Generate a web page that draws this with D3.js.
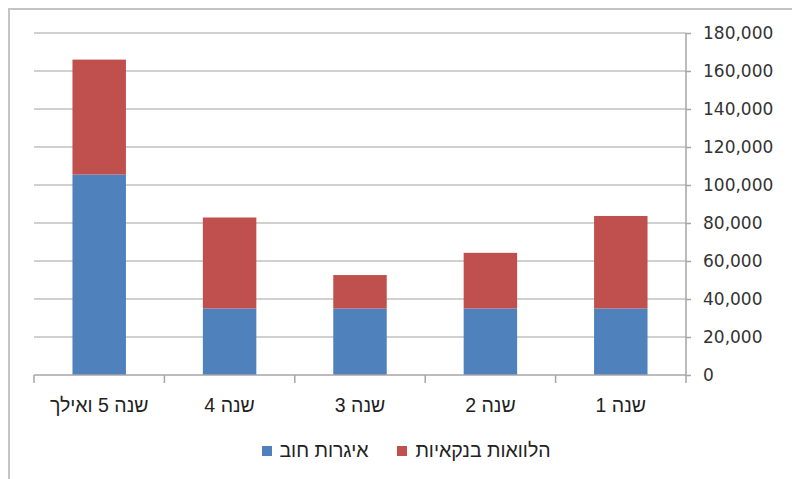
<!DOCTYPE html>
<html>
<head>
<meta charset="utf-8">
<script src="https://cdn.jsdelivr.net/npm/d3@7"></script>
<style>
  body { margin: 0; background: #fff; }
  svg { display: block; }
</style>
</head>
<body>
<script>
// categories run right-to-left on the chart
const categories = ["שנה 1", "שנה 2", "שנה 3", "שנה 4", "שנה 5 ואילך"];
const seriesNames = ["איגרות חוב", "הלוואות בנקאיות"];
const bonds = [35000, 35000, 35000, 35000, 105500];
const loans = [48700, 29300, 17600, 47900, 60500];
const yTicks = [0, 20000, 40000, 60000, 80000, 100000, 120000, 140000, 160000, 180000];
const colors = ["#4F81BD", "#C0504D"];

function drawChart() {
    const width = 792;
    const height = 479;
    const left = 34, right = 686, top = 33, bottom = 375;

    const svg = d3.select("body")
        .append("svg")
        .attr("width", width)
        .attr("height", height);

    // outer frame
    svg.append("rect")
        .attr("x", 9).attr("y", 9)
        .attr("width", 820).attr("height", 520)
        .attr("fill", "none")
        .attr("stroke", "#c4c4c4")
        .attr("stroke-width", 2);

    const x = d3.scaleBand()
        .domain(categories)
        .range([right, left])
        .padding(0);

    const y = d3.scaleLinear()
        .domain([0, 180000])
        .range([bottom, top]);

    // gridlines
    svg.append("g")
        .selectAll("line")
        .data(yTicks.slice(1))
        .enter().append("line")
        .attr("x1", left).attr("x2", right)
        .attr("y1", d => y(d)).attr("y2", d => y(d))
        .attr("stroke", "#c0c0c0")
        .attr("stroke-width", 1.5);

    // stacked bars
    const rows = categories.map((c, i) => ({ cat: c, bonds: bonds[i], loans: loans[i] }));
    const stack = d3.stack().keys(["bonds", "loans"]);
    const layers = stack(rows);
    const barW = x.bandwidth() * 0.41;

    svg.append("g")
        .selectAll("g")
        .data(layers)
        .enter().append("g")
        .attr("fill", (d, i) => colors[i])
        .selectAll("rect")
        .data(d => d)
        .enter().append("rect")
        .attr("x", d => x(d.data.cat) + (x.bandwidth() - barW) / 2)
        .attr("y", d => y(d[1]))
        .attr("width", barW)
        .attr("height", d => y(d[0]) - y(d[1]));

    // y axis on the right
    const yAxis = d3.axisRight(y)
        .tickValues(yTicks)
        .tickSize(5)
        .tickPadding(12)
        .tickFormat(d3.format(","));

    const gy = svg.append("g")
        .attr("transform", `translate(${right},0)`)
        .call(yAxis);
    gy.select(".domain").attr("stroke", "#a6a6a6").attr("stroke-width", 1.5)
        .attr("d", `M0,${top}V${bottom}`);
    gy.selectAll(".tick line").attr("stroke", "#a6a6a6").attr("stroke-width", 1.5);
    gy.selectAll(".tick text")
        .attr("fill", "#333")
        .style("font-family", "DejaVu Sans")
        .style("font-size", "17px");

    // x axis
    const gx = svg.append("g")
        .attr("transform", `translate(0,${bottom})`);
    gx.append("line")
        .attr("x1", left).attr("x2", right)
        .attr("stroke", "#a6a6a6").attr("stroke-width", 1.5);
    const bounds = categories.map(c => x(c)).concat([right]);
    gx.selectAll("line.tk")
        .data(bounds)
        .enter().append("line")
        .attr("class", "tk")
        .attr("x1", d => d).attr("x2", d => d)
        .attr("y1", 0).attr("y2", 8)
        .attr("stroke", "#a6a6a6").attr("stroke-width", 1.5);
    gx.selectAll("text")
        .data(categories)
        .enter().append("text")
        .attr("x", d => x(d) + x.bandwidth() / 2)
        .attr("y", 37)
        .attr("text-anchor", "middle")
        .attr("direction", "rtl")
        .attr("fill", "#222")
        .style("font-family", "Liberation Sans, Arial")
        .style("font-size", "19.5px")
        .text(d => d);

    // legend
    const legend = [
        { name: seriesNames[1], color: colors[1], sq: 397, cx: 483 },
        { name: seriesNames[0], color: colors[0], sq: 262, cx: 324 }
    ];
    const lg = svg.append("g");
    lg.selectAll("rect")
        .data(legend)
        .enter().append("rect")
        .attr("x", d => d.sq).attr("y", 446)
        .attr("width", 10).attr("height", 10)
        .attr("fill", d => d.color);
    lg.selectAll("text")
        .data(legend)
        .enter().append("text")
        .attr("x", d => d.cx)
        .attr("y", 457)
        .attr("text-anchor", "middle")
        .attr("direction", "rtl")
        .attr("fill", "#222")
        .style("font-family", "Liberation Sans, Arial")
        .style("font-size", "19.5px")
        .text(d => d.name);
}

drawChart();
</script>
</body>
</html>
